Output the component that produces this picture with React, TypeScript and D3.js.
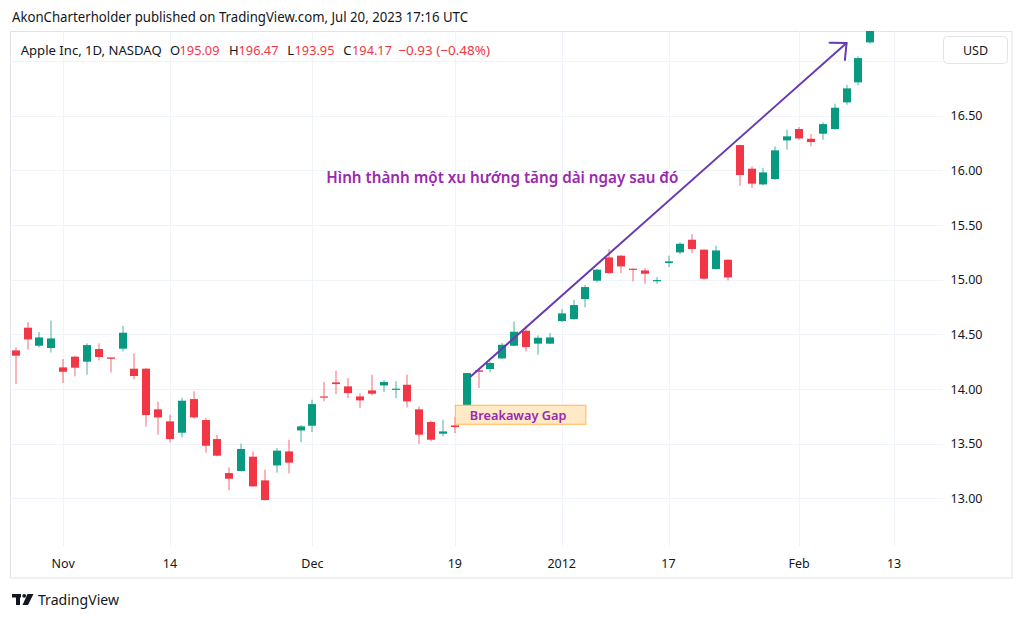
import React from "react";
import * as d3 from "d3";

// ---------- data ----------
const dates = [
  "2011-10-26","2011-10-27","2011-10-28","2011-10-31",
  "2011-11-01","2011-11-02","2011-11-03","2011-11-04","2011-11-07","2011-11-08","2011-11-09","2011-11-10","2011-11-11",
  "2011-11-14","2011-11-15","2011-11-16","2011-11-17","2011-11-18","2011-11-21","2011-11-22","2011-11-23","2011-11-25",
  "2011-11-28","2011-11-29","2011-11-30",
  "2011-12-01","2011-12-02","2011-12-05","2011-12-06","2011-12-07","2011-12-08","2011-12-09","2011-12-12","2011-12-13",
  "2011-12-14","2011-12-15","2011-12-16","2011-12-19","2011-12-20","2011-12-21","2011-12-22","2011-12-23","2011-12-27",
  "2011-12-28","2011-12-29","2011-12-30",
  "2012-01-03","2012-01-04","2012-01-05","2012-01-06","2012-01-09","2012-01-10","2012-01-11","2012-01-12","2012-01-13",
  "2012-01-17","2012-01-18","2012-01-19","2012-01-20","2012-01-23","2012-01-24","2012-01-25","2012-01-26","2012-01-27",
  "2012-01-30","2012-01-31",
  "2012-02-01","2012-02-02","2012-02-03","2012-02-06","2012-02-07","2012-02-08","2012-02-09",
];
const futureDates = ["2012-02-10", "2012-02-13"];

const opens = [
  14.353,14.561,14.396,14.375,14.198,14.296,14.250,14.366,14.289,14.369,14.186,14.186,13.814,13.704,13.600,13.908,
  13.716,13.542,13.231,13.250,13.381,13.164,13.301,13.429,13.621,13.664,13.932,14.061,14.024,13.932,13.987,14.033,
  13.994,14.039,13.814,13.698,13.591,13.667,13.850,14.171,14.183,14.280,14.396,14.533,14.415,14.415,14.622,14.640,
  14.823,14.991,15.204,15.220,15.101,15.085,14.988,15.153,15.250,15.366,15.275,15.098,15.183,16.232,16.016,15.872,
  15.921,16.275,16.379,16.290,16.336,16.379,16.623,16.806,17.172,
];
const highs = [
  14.381,14.613,14.521,14.625,14.274,14.305,14.418,14.418,14.289,14.579,14.326,14.192,13.884,13.765,13.920,13.978,
  13.737,13.579,13.283,13.500,13.429,13.262,13.460,13.536,13.670,13.902,14.064,14.167,14.100,13.963,14.131,14.079,
  14.070,14.131,13.841,13.710,13.719,13.743,14.146,14.192,14.253,14.421,14.619,14.579,14.491,14.512,14.732,14.817,
  14.951,15.098,15.281,15.225,15.103,15.107,15.024,15.220,15.342,15.418,15.280,15.311,15.185,16.235,16.037,16.022,
  16.220,16.373,16.397,16.333,16.440,16.611,16.784,17.044,17.380,
];
const lows = [
  14.045,14.360,14.381,14.335,14.055,14.116,14.131,14.262,14.152,14.344,14.088,13.655,13.582,13.512,13.557,13.728,
  13.417,13.385,13.073,13.245,13.105,12.980,13.234,13.228,13.512,13.606,13.887,13.954,13.917,13.826,13.942,13.972,
  13.917,13.832,13.496,13.521,13.567,13.597,13.841,14.009,14.152,14.275,14.392,14.344,14.314,14.412,14.613,14.634,
  14.747,14.976,15.055,15.061,14.985,14.963,14.963,15.116,15.235,15.244,15.000,15.092,14.994,15.860,15.839,15.863,
  15.915,16.190,16.281,16.220,16.281,16.375,16.601,16.778,17.160,
];
const closes = [
  14.305,14.454,14.472,14.463,14.158,14.195,14.402,14.293,14.277,14.515,14.119,13.762,13.740,13.542,13.893,13.740,
  13.481,13.390,13.179,13.451,13.109,12.984,13.436,13.326,13.658,13.862,13.923,14.045,13.963,13.896,13.957,14.064,
  14.003,13.887,13.582,13.536,13.612,13.652,14.146,14.158,14.238,14.405,14.524,14.384,14.469,14.472,14.692,14.768,
  14.933,15.092,15.061,15.122,15.092,15.055,14.997,15.168,15.329,15.281,15.009,15.268,15.021,15.958,15.879,15.982,
  16.184,16.312,16.293,16.260,16.424,16.574,16.751,17.028,17.320,
];

const priceTicks = [13, 13.5, 14, 14.5, 15, 15.5, 16, 16.5, 17];
const priceLabelTicks = [13, 13.5, 14, 14.5, 15, 15.5, 16, 16.5];
const timeTickDates = ["2011-11-01","2011-11-14","2011-12-01","2011-12-19","2012-01-03","2012-01-17","2012-02-01","2012-02-13"];
const timeTickLabels = ["Nov", "14", "Dec", "19", "2012", "17", "Feb", "13"];

const headerText = "AkonCharterholder published on TradingView.com, Jul 20, 2023 17:16 UTC";
const symbolText = "Apple Inc, 1D, NASDAQ";
const ohlcLabels = ["O", "H", "L", "C"];
const ohlcValues = ["195.09", "196.47", "193.95", "194.17"];
const changeText = "\u22120.93 (\u22120.48%)";

const trendText = "Hình thành một xu hướng tăng dài ngay sau đó";
const gapText = "Breakaway Gap";
// annotation anchors: [bar index, price]
const arrowFrom = [38.33, 14.115];
const arrowTo = [70.0, 17.166];
const trendTextAnchor = [41.0, 15.888];
const gapBoxAnchor = [37.0, 13.856];

// ---------- styling ----------
const UP = "#089981";
const DOWN = "#f23645";
const GRID = "#f0f3fa";
const FRAME = "#e0e3eb";
const TEXT = "#131722";
const PURPLE = "#9c27b0";
const ARROW = "#673ab7";
const FONT = "'Noto Sans', 'Open Sans', sans-serif";

const W = 1024, H = 619;
const plot = { left: 11, right: 943, top: 31, bottom: 546 };

export default function App() {
  const axisDates = dates.concat(futureDates);
  const x = d3.scaleLinear().domain([0, 72]).range([15.7, 870.3]);
  const y = d3.scaleLinear().domain([13, 16.5]).range([498.3, 115.8]);
  const bodyW = 8;

  const candles = dates.map((d, i) => ({
    d, o: opens[i], h: highs[i], l: lows[i], c: closes[i], i,
  }));

  const [ax1, ay1] = [x(arrowFrom[0]), y(arrowFrom[1])];
  const [ax2, ay2] = [x(arrowTo[0]), y(arrowTo[1])];
  const gx = x(gapBoxAnchor[0]);
  const gy = y(gapBoxAnchor[1]);

  const ohlcX = [170, 229, 287.3, 343.3];
  const ohlcValX = [179.5, 238.5, 294.5, 352];

  return (
    <svg width={W} height={H} style={{ position: "absolute", left: 0, top: 0, display: "block", background: "#fff" }}
      fontFamily={FONT}>
      <defs>
        <clipPath id="plotClip">
          <rect x={plot.left} y={plot.top} width={plot.right - plot.left} height={plot.bottom - plot.top} />
        </clipPath>
      </defs>
      <rect x={0} y={0} width={W} height={H} fill="#fff" />

      {/* header */}
      <text x={12} y={21.5} fontSize={14} fill={TEXT} textLength={456} lengthAdjust="spacingAndGlyphs">{headerText}</text>

      {/* frame */}
      <rect x={10.5} y={31.5} width={1001.5} height={546.5} fill="none" stroke={FRAME} strokeWidth={1} />

      {/* grid */}
      <g clipPath="url(#plotClip)">
        {priceTicks.map((p) => (
          <line key={"h" + p} x1={plot.left} x2={plot.right} y1={Math.round(y(p)) + 0.5} y2={Math.round(y(p)) + 0.5}
            stroke={GRID} strokeWidth={1} />
        ))}
        {timeTickDates.map((d) => {
          const xx = Math.round(x(axisDates.indexOf(d))) + 0.5;
          return <line key={"v" + d} x1={xx} x2={xx} y1={plot.top} y2={plot.bottom} stroke={GRID} strokeWidth={1} />;
        })}
      </g>

      {/* candles */}
      <g clipPath="url(#plotClip)">
        {candles.map((k) => {
          const cx = x(k.i);
          const up = k.c >= k.o;
          const col = up ? UP : DOWN;
          const yTop = y(Math.max(k.o, k.c));
          const yBot = y(Math.min(k.o, k.c));
          const bx = Math.round(cx - bodyW / 2);
          const wx = bx + bodyW / 2;
          return (
            <g key={k.d}>
              <line x1={wx} x2={wx} y1={y(k.h)} y2={y(k.l)} stroke={col} strokeWidth={1} strokeOpacity={0.75} />
              <rect x={bx} y={yTop} width={bodyW} height={Math.max(1.2, yBot - yTop)} fill={col} />
            </g>
          );
        })}
      </g>

      {/* annotations */}
      <g clipPath="url(#plotClip)">
        <line x1={ax1} y1={ay1} x2={ax2} y2={ay2} stroke={ARROW} strokeWidth={2} strokeLinecap="round" />
        {(() => {
          const ang = Math.atan2(ay2 - ay1, ax2 - ax1);
          const len = 17;
          const a1 = ang + Math.PI - Math.PI / 4.2;
          const a2 = ang + Math.PI + Math.PI / 4.2;
          return (
            <path d={`M${ax2 + len * Math.cos(a1)},${ay2 + len * Math.sin(a1)} L${ax2},${ay2} L${ax2 + len * Math.cos(a2)},${ay2 + len * Math.sin(a2)}`}
              fill="none" stroke={ARROW} strokeWidth={2} strokeLinecap="round" strokeLinejoin="round" />
          );
        })()}
        <text x={x(trendTextAnchor[0])} y={y(trendTextAnchor[1])} textAnchor="middle" fontSize={16.5} fontWeight={600}
          fill={PURPLE} textLength={352} lengthAdjust="spacingAndGlyphs">{trendText}</text>
        <rect x={gx + 0.5} y={gy + 0.5} width={130.5} height={19} fill="#ffe9c6" stroke="#ffb74d" strokeWidth={1} />
        <text x={gx + 15} y={gy + 15} fontSize={13} fontWeight={600} fill={PURPLE} textLength={96.5}
          lengthAdjust="spacingAndGlyphs">{gapText}</text>
      </g>

      {/* legend */}
      <text x={20.7} y={54.5} fontSize={13} fill={TEXT} textLength={141} lengthAdjust="spacingAndGlyphs">{symbolText}</text>
      {ohlcLabels.map((l, i) => (
        <g key={l}>
          <text x={ohlcX[i]} y={54.5} fontSize={13} fill={TEXT}>{l}</text>
          <text x={ohlcValX[i]} y={54.5} fontSize={13} fill={DOWN} textLength={40} lengthAdjust="spacingAndGlyphs">{ohlcValues[i]}</text>
        </g>
      ))}
      <text x={398.3} y={54.5} fontSize={13} fill={DOWN} textLength={91.7} lengthAdjust="spacingAndGlyphs">{changeText}</text>

      {/* price axis */}
      {priceLabelTicks.map((p) => (
        <text key={"pl" + p} x={966.5} y={y(p) + 4.5} fontSize={12.5} fill={TEXT} textAnchor="middle">{d3.format(".2f")(p)}</text>
      ))}
      <rect x={943.5} y={36.5} width={64} height={27} rx={4} fill="#fff" stroke={FRAME} strokeWidth={1} />
      <text x={975.5} y={54.5} fontSize={12.5} fill={TEXT} textAnchor="middle">USD</text>

      {/* time axis */}
      {timeTickDates.map((d, i) => (
        <text key={"tl" + d} x={x(axisDates.indexOf(d))} y={567.5} fontSize={12.5} fill={TEXT} textAnchor="middle">
          {timeTickLabels[i]}
        </text>
      ))}

      {/* logo */}
      <g fill={TEXT}>
        <rect x={12} y={594} width={9} height={3.5} />
        <rect x={16} y={594} width={4} height={11} />
        <circle cx={24.2} cy={595.8} r={1.9} />
        <path d="M27.5,594 L33.5,594 L28,605 L22.5,605 Z" />
      </g>
      <text x={38} y={605} fontSize={15} fill={TEXT} textLength={81} lengthAdjust="spacingAndGlyphs">TradingView</text>
    </svg>
  );
}
